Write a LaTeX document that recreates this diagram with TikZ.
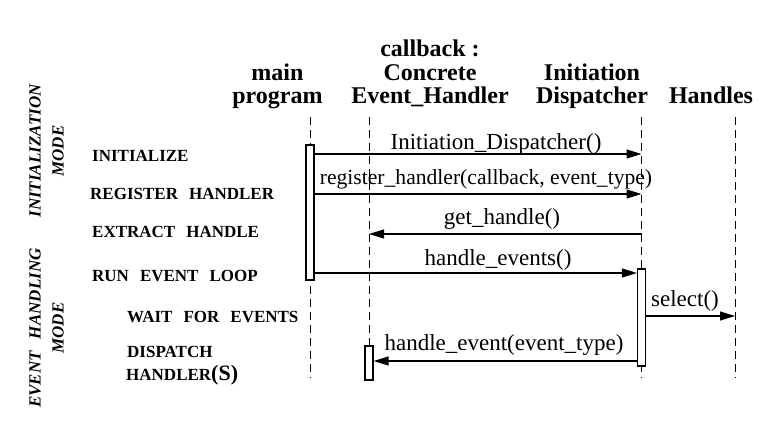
\documentclass[tikz,border=0pt]{standalone}
\usepackage{fontspec}
\setmainfont{Liberation Serif}
\usetikzlibrary{arrows.meta}

\newcommand\wordgap[1]{\spaceskip=#1\relax}

\tikzset{
  lifeline/.style={line width=1pt, dash pattern=on 8pt off 5pt},
  actbox/.style={draw, fill=white, line width=1.2pt, minimum width=8pt, inner sep=0pt},
  msg/.style={line width=1.1pt, -{Triangle[length=15pt,width=9pt]}},
  msglabel/.style={anchor=base, inner sep=0pt, font=\fontsize{23}{25}\selectfont},
  heading/.style={anchor=north, align=center, inner sep=0pt, font=\fontsize{24}{23.5}\selectfont\bfseries},
  phaselabel/.style={anchor=base west, inner sep=0pt, font=\fontsize{17}{20}\selectfont\bfseries\wordgap{11pt}},
  modelabel/.style={rotate=90, align=center, inner sep=0pt, font=\fontsize{17}{23}\selectfont\bfseries\itshape\wordgap{12pt}},
}

\begin{document}
\begin{tikzpicture}[x=1pt, y=-1pt]
\def \xmain    {310};
\def \xhdl     {369};
\def \xdisp    {641.5};
\def \xhandles {735};
\def \ytop     {117};
\def \ybot     {378};

\useasboundingbox (0,0) rectangle (770,444);

% headings
\node [heading] (hmain) at (277.5, 63.2) {main\\program};
\node [heading] (hhdl)  at (430, 39.7)   {callback :\\Concrete\\Event\_Handler};
\node [heading] (hdisp) at (592, 63.2)   {Initiation\\Dispatcher};
\node [heading, anchor=base] (hhandles) at (711, 103) {Handles};

% lifelines
\foreach \name/\x in {main/\xmain, hdl/\xhdl, disp/\xdisp, handles/\xhandles} {
  \coordinate (\name top) at (\x, \ytop);
  \coordinate (\name bot) at (\x, \ybot);
  \draw [lifeline] (\name top) -- (\name bot);
}

% activations
\node [actbox, minimum height=135pt] (mainact) at (\xmain, 212.5) {};
\node [actbox, minimum height=97pt]  (dispact) at (\xdisp, 317.5) {};
\node [actbox, minimum height=34pt]  (hdlact)  at (\xhdl, 363)    {};

% message ends
\coordinate (m1) at (\xdisp, 154);
\coordinate (m2) at (\xdisp, 194);
\coordinate (m3a) at (\xdisp, 234);
\coordinate (m3b) at (\xhdl, 234);
\coordinate (m4) at (\xdisp, 273);
\coordinate (m5) at (\xhandles, 316);
\coordinate (m6) at (\xhdl, 361);

\draw [msg] (mainact.east |- m1) -- (m1);
\draw [msg] (mainact.east |- m2) -- (m2);
\draw [msg] (m3a) -- (m3b);
\draw [msg] (mainact.east |- m4) -- (dispact.west |- m4);
\draw [msg] (dispact.east |- m5) -- (m5);
\draw [msg] (dispact.west |- m6) -- (hdlact.east |- m6);

\node [msglabel] (l1) at (496, 149) {Initiation\_Dispatcher()};
\node [msglabel, font=\fontsize{21.6}{25}\selectfont] (l2) at (486, 184) {register\_handler(callback, event\_type)};
\node [msglabel] (l3) at (502, 224) {get\_handle()};
\node [msglabel] (l4) at (498, 265) {handle\_events()};
\node [msglabel] (l5) at (685, 306) {select()};
\node [msglabel] (l6) at (504, 350) {handle\_event(event\_type)};

% phases
\node [phaselabel] (p1) at (92, 161)  {INITIALIZE};
\node [phaselabel] (p2) at (90, 199)  {REGISTER HANDLER};
\node [phaselabel] (p3) at (92, 237)  {EXTRACT HANDLE};
\node [phaselabel] (p4) at (92, 281)  {RUN EVENT LOOP};
\node [phaselabel] (p5) at (127, 322) {WAIT FOR EVENTS};
\node [phaselabel] (p6) at (127, 357) {DISPATCH};
\node [phaselabel] (p7) at (126, 380) {HANDLER{\fontsize{22}{22}\selectfont(S)}};

% modes
\node [modelabel] (mode1) at (46.5, 151) {INITIALIZATION\\MODE};
\node [modelabel] (mode2) at (46.5, 328) {EVENT HANDLING\\MODE};

\end{tikzpicture}
\end{document}
